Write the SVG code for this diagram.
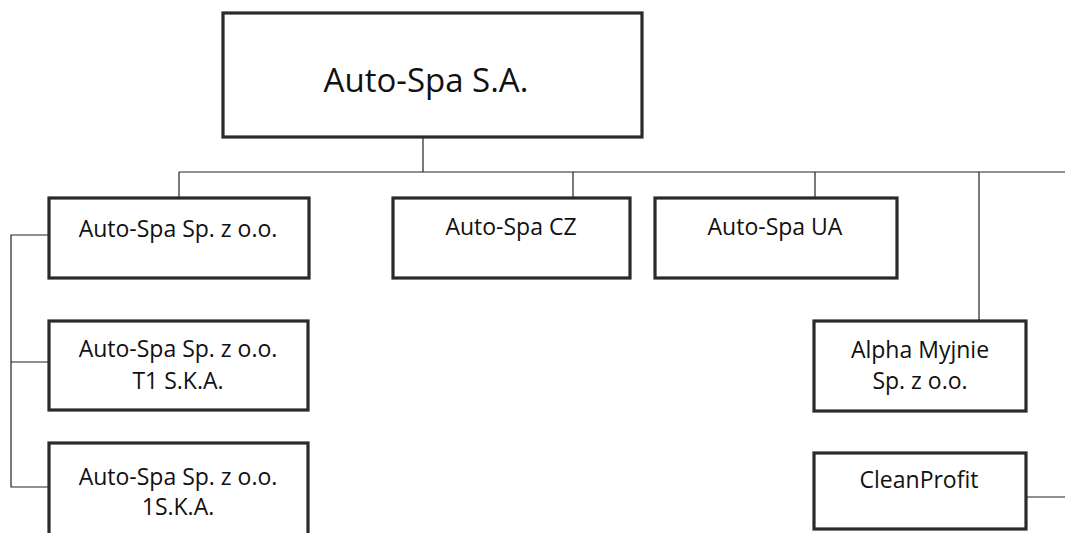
<svg xmlns="http://www.w3.org/2000/svg" width="1065" height="533" viewBox="0 0 1065 533">
  <style>
    .box { fill: #ffffff; stroke: #2a2a2a; stroke-width: 3.2; }
    .lbl { font-family: "Open Sans", "Noto Sans", sans-serif; font-size: 23px; fill: #111; text-anchor: middle; }
    .big { font-size: 33px; }
    .wire { fill: none; stroke: #222; stroke-width: 1.2; }
  </style>
  <rect width="1065" height="533" fill="#ffffff"/>

  <!-- connectors -->
  <g id="connectors">
    <path class="wire" d="M423,138 V172"/>
    <path class="wire" d="M179,172 H1065"/>
    <path class="wire" d="M179,172 V197"/>
    <path class="wire" d="M573,172 V197"/>
    <path class="wire" d="M815,172 V197"/>
    <path class="wire" d="M979,172 V320"/>
    <path class="wire" d="M48,235 H11 V487 H48"/>
    <path class="wire" d="M11,362 H48"/>
    <path class="wire" d="M1027,497 H1065"/>
  </g>

  <g id="auto-spa-sa">
    <rect class="box" x="223" y="13" width="419" height="124"/>
    <text class="lbl big" x="426" y="92">Auto-Spa S.A.</text>
  </g>

  <g id="auto-spa-sp">
    <rect class="box" x="49" y="198" width="260" height="80"/>
    <text class="lbl" x="178" y="237">Auto-Spa Sp. z o.o.</text>
  </g>

  <g id="auto-spa-cz">
    <rect class="box" x="393" y="198" width="237" height="80"/>
    <text class="lbl" x="511" y="235">Auto-Spa CZ</text>
  </g>

  <g id="auto-spa-ua">
    <rect class="box" x="655" y="198" width="242" height="80"/>
    <text class="lbl" x="775" y="235">Auto-Spa UA</text>
  </g>

  <g id="auto-spa-t1">
    <rect class="box" x="49" y="321" width="259" height="89"/>
    <text class="lbl" x="178" y="357">Auto-Spa Sp. z o.o.</text>
    <text class="lbl" x="178" y="389">T1 S.K.A.</text>
  </g>

  <g id="auto-spa-1ska">
    <rect class="box" x="49" y="443" width="259" height="100"/>
    <text class="lbl" x="178" y="485">Auto-Spa Sp. z o.o.</text>
    <text class="lbl" x="178" y="515">1S.K.A.</text>
  </g>

  <g id="alpha-myjnie">
    <rect class="box" x="814" y="321" width="212" height="90"/>
    <text class="lbl" x="920" y="358">Alpha Myjnie</text>
    <text class="lbl" x="920" y="389">Sp. z o.o.</text>
  </g>

  <g id="cleanprofit">
    <rect class="box" x="814" y="453" width="212" height="76"/>
    <text class="lbl" x="919" y="488">CleanProfit</text>
  </g>
</svg>
